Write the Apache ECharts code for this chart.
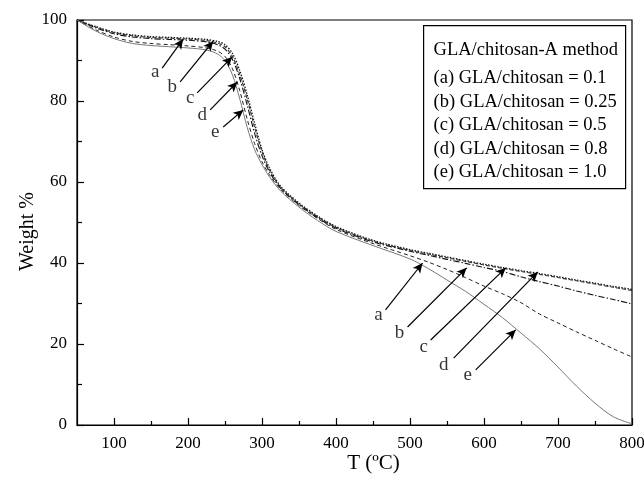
<!DOCTYPE html>
<html><head><meta charset="utf-8">
<script src="https://cdn.jsdelivr.net/npm/echarts@6/dist/echarts.min.js"></script>
<style>html,body{margin:0;padding:0;background:#fff}#c{width:644px;height:478px}</style>
</head><body><div id="c"></div>
<script>
var temps = [50,75,100,125,150,175,200,225,240,250,260,270,280,290,300,310,325,350,375,400,450,500,525,550,575,600,625,650,675,700,725,750,775,800];
var seriesA = [100,98.4,97.0,96.3,95.9,95.7,95.5,95.2,94.7,93.9,91.8,87.5,81.5,74.5,68.0,63.5,59.0,54.8,51.6,49.0,45.6,43.3,42.4,41.5,40.6,39.7,38.9,38.1,37.4,36.6,35.8,35.0,34.2,33.5];
var seriesB = [100,98.3,96.9,96.1,95.7,95.5,95.3,94.9,94.3,93.4,91.0,86.5,80.5,73.5,67.5,63.0,58.7,54.6,51.4,48.8,45.4,43.1,42.2,41.3,40.4,39.5,38.7,37.9,37.2,36.4,35.6,34.8,34.0,33.2];
var seriesC = [100,98.1,96.6,95.8,95.4,95.2,95.0,94.6,93.9,92.8,90.3,85.5,79.0,72.0,66.5,62.5,58.5,54.4,51.2,48.6,45.2,42.9,41.9,40.9,39.9,38.9,37.9,36.6,35.4,34.3,33.1,32.0,31.0,29.9];
var seriesD = [100,97.6,95.8,94.7,94.2,93.9,93.6,93.1,92.3,91.0,88.0,82.5,75.5,69.5,65.0,61.8,58.2,54.2,51.0,48.3,44.8,41.8,40.2,38.4,36.4,34.3,32.4,30.2,27.4,25.2,23.0,20.9,18.8,16.8];
var seriesE = [100,97.3,95.4,94.2,93.7,93.4,93.1,92.6,91.6,90.0,86.5,80.5,73.5,68.0,64.3,61.3,57.8,53.8,50.5,47.8,44.3,41.0,38.6,35.8,33.0,29.8,26.5,22.7,18.8,14.3,9.6,5.4,2.0,0.3];
var xMajorTicks = [100,200,300,400,500,600,700,800];
var xMinorTicks = [150,250,350,450,550,650,750];
var yMajorTicks = [0,20,40,60,80,100];
var yMinorTicks = [10,30,50,70,90];
var legendTitle = 'GLA/chitosan-A method';
var legendLines = ['(a) GLA/chitosan = 0.1','(b) GLA/chitosan = 0.25','(c) GLA/chitosan = 0.5','(d) GLA/chitosan = 0.8','(e) GLA/chitosan = 1.0'];
var arrowLetters = ['a','b','c','d','e'];
// arrows: [startT, startW, endT, endW]
var upperArrows = [[165.1,88.1,193.5,95.3],[189.4,84.7,234.1,94.8],[212.4,82.0,259.8,90.9],[230.0,77.8,266.6,84.7],[247.6,73.6,274.7,77.8]];
var upperLabels = [[155.6,87.2],[178.6,83.5],[203.0,80.7],[219.2,76.5],[236.8,72.3]];
var lowerArrows = [[466.9,28.4,517.0,40.0],[496.7,24.2,576.6,38.8],[527.9,21.0,629.4,38.8],[559.0,16.5,672.7,37.8],[588.8,13.6,642.9,23.5]];
var lowerLabels = [[457.5,27.2],[485.9,22.7],[518.4,19.3],[545.5,14.8],[578.0,12.3]];

var FONT = 'Liberation Serif';
function pairs(v){ return temps.map(function(t,i){ return [t, v[i]]; }); }
var arrowLines = upperArrows.concat(lowerArrows).map(function(a){
  return [{coord:[a[0],a[1]]},{coord:[a[2],a[3]]}];
});
var labelPts = upperLabels.concat(lowerLabels).map(function(p,i){
  return {name: arrowLetters[i%5], value: p};
});
var styles = [
  {color:'#111', type:[1.5,1.5], width:1.3},
  {color:'#333', type:[4,2], width:1.1},
  {color:'#111', type:[6,2,1.5,2], width:1.1},
  {color:'#222', type:[4,3], width:1},
  {color:'#777', type:'solid', width:1}
];
var vals = [seriesA, seriesB, seriesC, seriesD, seriesE];
var series = vals.map(function(v,i){
  return {type:'line', xAxisIndex:0, yAxisIndex:0, data:pairs(v), smooth:0.3, showSymbol:false, symbol:'none',
    lineStyle:styles[i], z:2, animation:false};
});
series[0].markLine = {silent:true, symbol:['none','arrow'], symbolSize:[7,10], animation:false,
  lineStyle:{color:'#000', type:'solid', width:1.2}, label:{show:false}, data:arrowLines};
series.push({type:'scatter', xAxisIndex:0, yAxisIndex:0, data:labelPts, symbolSize:0, animation:false,
  label:{show:true, position:'inside', formatter:'{b}', color:'#000', fontFamily:FONT, fontSize:19}});

var chart = echarts.init(document.getElementById('c'));
var axisLabelStyle = {color:'#000', fontFamily:FONT, fontSize:17};
var lf = '18.5px "Liberation Serif"';
chart.setOption({
  backgroundColor:'#fff',
  grid:[{left:77, right:12, top:20, bottom:53, outerBoundsMode:'none', containLabel:false, show:true, borderColor:'#000', borderWidth:1.2, backgroundColor:'transparent'},
        {left:77, right:12, top:20, bottom:53, outerBoundsMode:'none', containLabel:false}],
  xAxis:[
    {type:'value', gridIndex:0, min:50, max:800, interval:50,
     axisLine:{show:true, onZero:false, lineStyle:{color:'#000', width:1.2}},
     axisTick:{show:true, inside:true, length:7, customValues:xMajorTicks, lineStyle:{color:'#000', width:1.2}},
     axisLabel:Object.assign({margin:10, customValues:xMajorTicks}, axisLabelStyle),
     splitLine:{show:false},
     name:'T (ºC)', nameLocation:'middle', nameGap:28, nameMoveOverlap:false, nameTextStyle:{color:'#000', fontFamily:FONT, fontSize:21, padding:[0,0,0,38]}},
    {type:'value', gridIndex:1, min:50, max:800, interval:50,
     axisLine:{show:false}, axisLabel:{show:false}, splitLine:{show:false},
     axisTick:{show:true, inside:true, length:4, customValues:xMinorTicks, lineStyle:{color:'#000', width:1.2}}}
  ],
  yAxis:[
    {type:'value', gridIndex:0, min:0, max:100, interval:10,
     axisLine:{show:true, onZero:false, lineStyle:{color:'#000', width:1.2}},
     axisTick:{show:true, inside:true, length:7, customValues:yMajorTicks, lineStyle:{color:'#000', width:1.2}},
     axisLabel:Object.assign({margin:10, customValues:yMajorTicks}, axisLabelStyle),
     splitLine:{show:false},
     name:'Weight %', nameLocation:'middle', nameGap:39, nameMoveOverlap:false, nameTextStyle:{color:'#000', fontFamily:FONT, fontSize:20, padding:[0,18,0,0]}},
    {type:'value', gridIndex:1, min:0, max:100, interval:10,
     axisLine:{show:false}, axisLabel:{show:false}, splitLine:{show:false},
     axisTick:{show:true, inside:true, length:5, customValues:yMinorTicks, lineStyle:{color:'#000', width:1.2}}}
  ],
  series:series,
  graphic:[{type:'group', left:423, top:25, z:100, children:[
    {type:'rect', shape:{x:0,y:0,width:202,height:163}, style:{fill:'#fff', stroke:'#000', lineWidth:1.2}},
    {type:'text', x:10, y:25, style:{text:legendTitle, fill:'#000', font:lf, textVerticalAlign:'middle'}},
    {type:'text', x:10, y:53, style:{text:legendLines[0], fill:'#000', font:lf, textVerticalAlign:'middle'}},
    {type:'text', x:10, y:77, style:{text:legendLines[1], fill:'#000', font:lf, textVerticalAlign:'middle'}},
    {type:'text', x:10, y:100, style:{text:legendLines[2], fill:'#000', font:lf, textVerticalAlign:'middle'}},
    {type:'text', x:10, y:124, style:{text:legendLines[3], fill:'#000', font:lf, textVerticalAlign:'middle'}},
    {type:'text', x:10, y:147, style:{text:legendLines[4], fill:'#000', font:lf, textVerticalAlign:'middle'}}
  ]}]
});
</script></body></html>
